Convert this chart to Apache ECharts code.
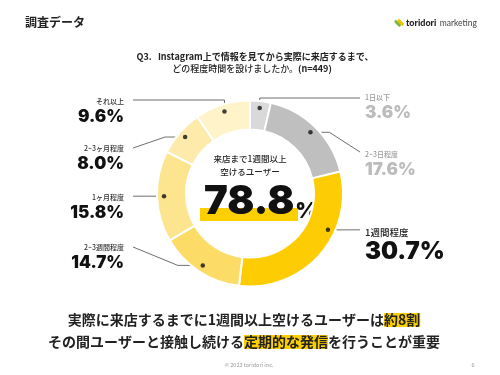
<!DOCTYPE html>
<html><head><meta charset="utf-8">
<script src="https://cdn.jsdelivr.net/npm/echarts@6/dist/echarts.min.js"></script>
<style>html,body{margin:0;padding:0;background:#fff}#c{width:500px;height:375px}</style>
</head><body><div id="c"></div>
<script>
// ---- data ----
const categories = ['1日以下', '2~3日程度', '1週間程度', '2~3週間程度', '1ヶ月程度', '2~3ヶ月程度', 'それ以上'];
const shares = [3.6, 17.6, 30.7, 14.7, 15.8, 8.0, 9.6];
const sampleSize = 449;
const weekOrMoreFrom = 2; // categories from this index are "1週間以上"

// ---- style / layout ----
const sliceColors = ['#d9d9d9', '#bfbfbf', '#fdcc03', '#fcdb66', '#fde48e', '#feeaaa', '#fff3ca'];
const CX = 250, CY = 193.5, R_OUT = 93, R_IN = 64, R_DOT = 86;
const JP = '"Noto Sans CJK JP"';
const NUM = 'Inter';
const labelLayoutCfg = [
  { side: 'R', top: 92, route: 'v', lineY: 98, kind: 'gray' },
  { side: 'R', top: 149, route: 'hd', elbow: 19, lineY: 152, kind: 'gray' },
  { side: 'R', top: 226, route: 'h', frac: 0.35, kind: 'big' },
  { side: 'L', top: 242, route: 'hd', elbow: -25, lineY: 247, kind: 'norm' },
  { side: 'L', top: 192, route: 'h', kind: 'norm' },
  { side: 'L', top: 143, route: 'hd', elbow: -20, lineY: 148, kind: 'norm' },
  { side: 'L', top: 96, route: 'v', lineY: 100, kind: 'norm' }
];
const richByKind = {
  norm: { n: { fontFamily: JP, fontSize: 7, lineHeight: 10, color: '#333', fontWeight: 500 },
          v: { fontFamily: NUM, fontWeight: 900, fontSize: 17, lineHeight: 22, color: '#111' } },
  gray: { n: { fontFamily: JP, fontSize: 7, lineHeight: 10, color: '#9a9a9a', fontWeight: 500 },
          v: { fontFamily: NUM, fontWeight: 900, fontSize: 17, lineHeight: 22, color: '#bcbcbc' } },
  big:  { n: { fontFamily: JP, fontSize: 9.5, lineHeight: 12, color: '#222', fontWeight: 500 },
          v: { fontFamily: NUM, fontWeight: 900, fontSize: 24, lineHeight: 28, color: '#111' } }
};

// anchor (dot) position along each slice, in percent of the whole
const anchors = [];
let cum = 0;
shares.forEach((v, i) => {
  const f = labelLayoutCfg[i].frac != null ? labelLayoutCfg[i].frac : 0.5;
  anchors.push(cum + v * f);
  cum += v;
});
function anchorPx(i) {
  const t = anchors[i] / 100 * Math.PI * 2;
  return [CX + R_DOT * Math.sin(t), CY - R_DOT * Math.cos(t)];
}

const weekOrMore = shares.slice(weekOrMoreFrom).reduce((a, b) => a + b, 0).toFixed(1);

const chart = echarts.init(document.getElementById('c'), null, { renderer: 'canvas' });
chart.setOption({
  backgroundColor: '#fff',
  animation: false,
  polar: { center: [CX, CY], radius: R_DOT },
  angleAxis: { type: 'value', min: 0, max: 100, startAngle: 90, clockwise: true, show: false },
  radiusAxis: { type: 'value', min: 0, max: 1, show: false },
  series: [
    {
      type: 'pie',
      center: [CX, CY],
      radius: [R_IN, R_OUT],
      startAngle: 90,
      clockwise: true,
      avoidLabelOverlap: false,
      silent: true,
      itemStyle: { borderColor: '#fff', borderWidth: 2 },
      label: {
        show: true,
        position: 'outside',
        formatter: p => `{n|${p.name}}\n{v|${Number(p.value).toFixed(1)}%}`
      },
      labelLine: { show: true, length: 10, length2: 10, lineStyle: { color: '#4a4a4a', width: 0.8 } },
      labelLayout: function (params) {
        const i = params.dataIndex;
        const c = labelLayoutCfg[i];
        const s = anchorPx(i);
        const ex = c.side === 'R' ? 360 : 133;
        let pts;
        if (c.route === 'v') pts = [s, [s[0], c.lineY], [ex, c.lineY]];
        else if (c.route === 'hd') pts = [s, [s[0] + c.elbow, s[1]], [ex, c.lineY]];
        else pts = [s, [(s[0] + ex) / 2, s[1]], [ex, s[1]]];
        return {
          x: c.side === 'R' ? 365 : 124,
          y: c.top,
          align: c.side === 'R' ? 'left' : 'right',
          verticalAlign: 'top',
          labelLinePoints: pts
        };
      },
      data: categories.map((name, i) => ({
        name, value: shares[i],
        itemStyle: { color: sliceColors[i] },
        label: { rich: richByKind[labelLayoutCfg[i].kind] }
      }))
    },
    {
      type: 'scatter',
      coordinateSystem: 'polar',
      symbol: 'circle',
      symbolSize: 4.5,
      silent: true,
      z: 10,
      itemStyle: { color: '#111' },
      data: anchors.map(a => [1, a])
    }
  ],
  graphic: [
    { type: 'text', x: 25, y: 22, style: { text: '調査データ', font: `bold 12px ${JP}`, fill: '#222', textVerticalAlign: 'middle', verticalAlign: 'middle' } },
    // logo
    { type: 'rect', x: 398, y: 23, rotation: Math.PI / 4, shape: { x: -2, y: -4, width: 3, height: 8, r: 1.5 }, style: { fill: '#7bb843' } },
    { type: 'rect', x: 401, y: 22, rotation: Math.PI / 4, shape: { x: -2, y: -4, width: 3, height: 8, r: 1.5 }, style: { fill: '#f2c200' } },
    { type: 'text', x: 406, y: 23, style: { text: '{a|toridori} {b|marketing}', textVerticalAlign: 'middle', verticalAlign: 'middle',
        rich: { a: { fontFamily: 'Lato', fontWeight: 900, fontSize: 9, fill: '#222', color: '#222' },
                b: { fontFamily: 'Lato', fontWeight: 400, fontSize: 8.5, fill: '#444', color: '#444' } } } },
    // question
    { type: 'text', x: 255, y: 57, style: { text: 'Q3.   Instagram上で情報を見てから実際に来店するまで、', font: `bold 9px ${JP}`, fill: '#222', textAlign: 'center', align: 'center', textVerticalAlign: 'middle', verticalAlign: 'middle' } },
    { type: 'text', x: 252, y: 69, style: { text: `{a|どの程度時間を設けましたか。}{b|(n=${sampleSize})}`, textAlign: 'center', align: 'center', textVerticalAlign: 'middle', verticalAlign: 'middle',
        rich: { a: { fontFamily: JP, fontWeight: 500, fontSize: 9, fill: '#222', color: '#222' },
                b: { fontFamily: JP, fontWeight: 'bold', fontSize: 9, fill: '#222', color: '#222' } } } },
    // center
    { type: 'text', x: 250, y: 159, style: { text: '来店まで1週間以上', font: `500 8.5px ${JP}`, fill: '#222', textAlign: 'center', align: 'center', textVerticalAlign: 'middle', verticalAlign: 'middle' } },
    { type: 'text', x: 250, y: 172, style: { text: '空けるユーザー', font: `500 8.5px ${JP}`, fill: '#222', textAlign: 'center', align: 'center', textVerticalAlign: 'middle', verticalAlign: 'middle' } },
    { type: 'rect', shape: { x: 200, y: 208, width: 98, height: 13 }, style: { fill: '#fccf00' }, z: 1 },
    { type: 'text', x: 204, y: 222, z: 2, style: { text: `{a|${weekOrMore}}{b|%}`, textVerticalAlign: 'bottom', verticalAlign: 'bottom',
        rich: { a: { fontFamily: NUM, fontWeight: 900, fontSize: 40, lineHeight: 40, verticalAlign: 'bottom', fill: '#111', color: '#111' },
                b: { fontFamily: NUM, fontWeight: 900, fontSize: 22, lineHeight: 28, verticalAlign: 'bottom', fill: '#111', color: '#111', padding: [0, 0, 0, 1] } } } },
    // conclusion
    { type: 'text', x: 244, y: 320, style: { text: '{a|実際に来店するまでに1週間以上空けるユーザーは}{h|約8割}', textAlign: 'center', align: 'center', textVerticalAlign: 'middle', verticalAlign: 'middle',
        rich: { a: { fontFamily: JP, fontWeight: 'bold', fontSize: 14, lineHeight: 18, fill: '#222', color: '#222' },
                h: { fontFamily: JP, fontWeight: 'bold', fontSize: 14, lineHeight: 18, fill: '#222', color: '#222', backgroundColor: '#fccf00' } } } },
    { type: 'text', x: 244, y: 342, style: { text: '{a|その間ユーザーと接触し続ける}{h|定期的な発信}{a|を行うことが重要}', textAlign: 'center', align: 'center', textVerticalAlign: 'middle', verticalAlign: 'middle',
        rich: { a: { fontFamily: JP, fontWeight: 'bold', fontSize: 14, lineHeight: 18, fill: '#222', color: '#222' },
                h: { fontFamily: JP, fontWeight: 'bold', fontSize: 14, lineHeight: 18, fill: '#222', color: '#222', backgroundColor: '#fccf00' } } } },
    // footer
    { type: 'text', x: 249, y: 365, style: { text: '© 2023 toridori inc.', font: `5.5px ${JP}`, fill: '#999', textAlign: 'center', align: 'center', textVerticalAlign: 'middle', verticalAlign: 'middle' } },
    { type: 'text', x: 473, y: 365, style: { text: '6', font: `5.5px ${JP}`, fill: '#999', textAlign: 'center', align: 'center', textVerticalAlign: 'middle', verticalAlign: 'middle' } }
  ]
});
</script>
</body></html>
